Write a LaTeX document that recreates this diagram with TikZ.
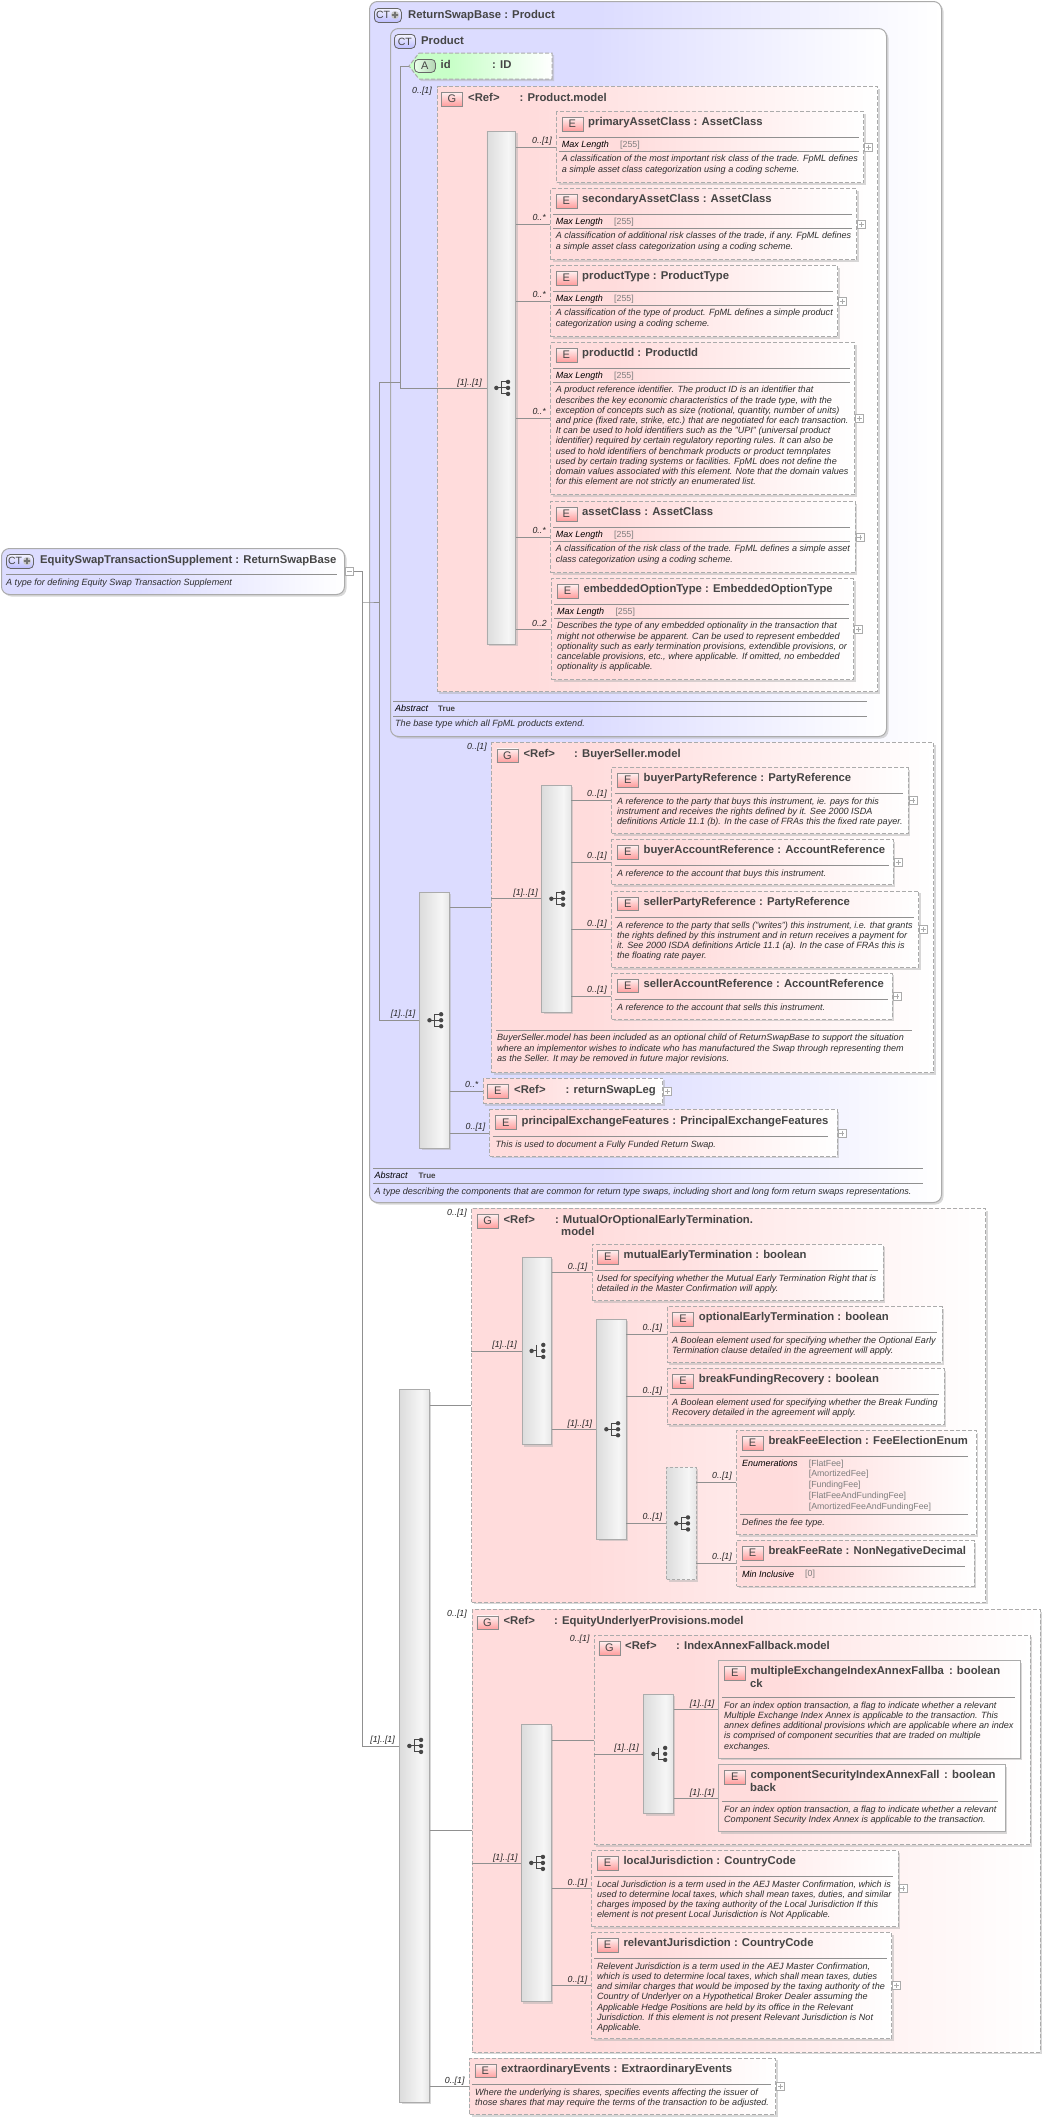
\documentclass[tikz,border=0pt]{standalone}
\usepackage{fontspec}
\setmainfont{Liberation Sans}
\usetikzlibrary{shadows,calc}
\definecolor{pinkc}{HTML}{FFDCDC}
\definecolor{bluec}{HTML}{DCDCFF}
\definecolor{greenc}{HTML}{C8FFC8}
\definecolor{bordc}{HTML}{ABABAB}
\definecolor{linec}{HTML}{909090}
\definecolor{ink}{HTML}{454545}
\definecolor{dimt}{HTML}{7E7E7E}
\definecolor{sqa}{HTML}{DCDCDC}
\definecolor{sqb}{HTML}{F6F6F6}
\definecolor{sqc}{HTML}{E6E6E6}
\pgfdeclarehorizontalshading{pinkg}{100bp}{color(0bp)=(pinkc); color(36bp)=(pinkc); color(75bp)=(white); color(100bp)=(white)}
\pgfdeclarehorizontalshading{blueg}{100bp}{color(0bp)=(bluec); color(45bp)=(bluec); color(75bp)=(white); color(100bp)=(white)}
\pgfdeclarehorizontalshading{greeng}{100bp}{color(0bp)=(greenc); color(40bp)=(greenc); color(75bp)=(white); color(100bp)=(white)}
\pgfdeclarehorizontalshading{seqg}{100bp}{color(0bp)=(sqa); color(25bp)=(sqa); color(62bp)=(sqb); color(75bp)=(sqc); color(100bp)=(sqc)}
\tikzset{
  shdw/.style={drop shadow={shadow xshift=2pt,shadow yshift=-2pt,fill=black!30,opacity=.5}},
  ctbox/.style={shape=rectangle,draw=bordc,line width=1pt,rounded corners=8pt,shade,shading=blueg,shdw},
  grpbox/.style={shape=rectangle,draw=bordc,line width=1pt,dash pattern=on 4pt off 2pt,shade,shading=pinkg,shdw},
  elembox/.style={grpbox},
  elemsolid/.style={shape=rectangle,draw=bordc,line width=1pt,shade,shading=pinkg,shdw},
  seqbox/.style={shape=rectangle,draw=bordc,line width=.8pt,shade,shading=seqg,shdw},
  seqdash/.style={seqbox,dash pattern=on 3pt off 2pt},
  conn/.style={draw=linec,line width=.8pt},
  rulel/.style={draw=linec,line width=.8pt},
  ttext/.style={font=\fontsize{11.3}{13}\selectfont\bfseries,text=ink,inner sep=0pt,anchor=base west},
  dtext/.style={font=\fontsize{9.05}{10.2}\selectfont\itshape,text=black!82,inner sep=0pt,align=left,anchor=north west},
  ftext/.style={font=\fontsize{9}{10.2}\selectfont\itshape,text=black,inner sep=0pt,anchor=base west},
  vtext/.style={font=\fontsize{8.8}{10}\selectfont,text=dimt,inner sep=0pt,anchor=base west},
  ltext/.style={font=\fontsize{8.8}{10}\selectfont\itshape,text=black!85,inner sep=0pt,anchor=base east},
  ptext/.style={font=\fontsize{8}{10}\selectfont\bfseries,text=ink,inner sep=0pt,anchor=base west},
  badge/.style={shape=rectangle,draw=black!45,line width=.7pt,top color=red!6,bottom color=red!38,
     minimum width=21pt,minimum height=13.5pt,inner sep=0pt,anchor=north west,
     font=\fontsize{11}{11}\selectfont,text=ink},
  ctbadge/.style={shape=rectangle,rounded corners=4pt,draw=black!60,line width=.8pt,top color=blue!4,bottom color=blue!26,
     minimum height=14pt,inner sep=0pt,anchor=north west,font=\fontsize{10.5}{10.5}\selectfont,text=ink},
  cttext/.style={font=\fontsize{10.5}{10.5}\selectfont,text=ink,inner sep=0pt},
  abadge/.style={shape=rectangle,rounded corners=4pt,draw=black!60,line width=.8pt,left color=green!8,right color=green!45!black!30,
     minimum width=21pt,minimum height=13pt,inner sep=0pt,anchor=north west,font=\fontsize{11}{11}\selectfont,text=ink},
  plusbx/.style={shape=rectangle,draw=bordc,line width=.7pt,fill=white,minimum width=8pt,minimum height=8pt,inner sep=0pt,anchor=west},
  mdot/.style={fill=black!72,draw=none},
  mline/.style={draw=black!72,line width=1pt}
}
\newcount\nn
\newcommand{\nxt}{\global\advance\nn by 1 }
\newcommand{\mkbox}[6]{\pgfmathsetmacro\bxw{#5-#3}\pgfmathsetmacro\bxh{#6-#4}%
  \node[#1,anchor=north west,minimum width=\bxw pt,minimum height=\bxh pt,inner sep=0pt] (#2) at (#3,#4) {};}
\newcommand{\ttl}[3]{\nxt\node[ttext] (t\the\nn) at (#1,#2) {#3};}
\newcommand{\ptl}[3]{\nxt\node[ptext] (t\the\nn) at (#1,#2) {#3};}
\newcommand{\dsc}[3]{\nxt\node[dtext] (t\the\nn) at (#1,#2-7.14) {\strut #3};}
\newcommand{\lab}[3]{\nxt\node[ltext] (t\the\nn) at (#1,#2) {#3};}
\newcommand{\fct}[3]{\nxt\node[ftext] (t\the\nn) at (#1,#2) {#3};}
\newcommand{\vlu}[3]{\nxt\node[vtext] (t\the\nn) at (#1,#2) {#3};}
\newcommand{\hr}[3]{\draw[rulel] (#1,#3) -- (#2,#3);}
\newcommand{\bdg}[3]{\nxt\node[badge] (b\the\nn) at (#1,#2) {#3};}
% complex-type badge with plus: name, x, y
\newcommand{\ctplus}[3]{\node[ctbadge,minimum width=27pt] (#1) at (#2,#3) {};
  \nxt\node[cttext] (t\the\nn) at (#2+9,#3+7) {CT};
  \fill[black!22] (#2+21,#3+7) circle (4);
  \draw[black!55,line width=2pt] (#2+17.6,#3+7) -- (#2+24.4,#3+7) (#2+21,#3+3.6) -- (#2+21,#3+10.4);}
% element box: style,name,x1,y1,x2,y2,title
\newcommand{\elemb}[7][elembox]{\mkbox{#1}{#2}{#3}{#4}{#5}{#6}\bdg{#3+5.5}{#4+6}{E}\ttl{#3+32}{#4+14.8}{#7}}
% facet rules and text of the Max Length kind: x1,y1,x2
\newcommand{\mxl}[3]{\hr{#1+3}{#3-4.5}{#2+26}\hr{#1+3}{#3-4.5}{#2+40}\fct{#1+5.6}{#2+36.7}{Max Length}\vlu{#1+64}{#2+36.2}{[255]}}
\newcommand{\plusb}[1]{\node[plusbx] (#1p) at (#1.east) {};
  \draw[draw=bordc,line width=.6pt] ($(#1p.center)+(-2.5,0)$) -- ($(#1p.center)+(2.5,0)$) ($(#1p.center)+(0,-2.5)$) -- ($(#1p.center)+(0,2.5)$);}
% sequence compositor marker
\newcommand{\mseq}[1]{\begin{scope}[shift={(#1.center)}]
  \draw[mline] (-5,0) -- (6.7,0) (0,-6) -- (0,6) (0,-6) -- (6.7,-6) (0,6) -- (6.7,6);
  \foreach \mp in {(-5,0),(6.7,-6),(6.7,0),(6.7,6)} \fill[mdot] \mp circle (2.2);
\end{scope}}
\newcommand{\mcho}[1]{\begin{scope}[shift={(#1.center)}]
  \draw[mline] (-5,0) -- (0,0) (0,-6) -- (0,6) -- (6.7,6);
  \foreach \mp in {(-5,0),(6.7,-6),(6.7,0),(6.7,6)} \fill[mdot] \mp circle (2.2);
\end{scope}}
\newcommand{\conel}[2]{\draw[conn] (#1.east |- #2.west) -- (#2.west);}
\begin{document}
\begin{tikzpicture}[x=1pt,y=-1pt]
\useasboundingbox (0,0) rectangle (1044,2120);
\fill[white] (0,0) rectangle (1044,2120);

% ---------- root
\mkbox{ctbox}{root}{1}{548}{344}{594}
\ctplus{rootbadge}{6}{554}
\ttl{40}{563}{EquitySwapTransactionSupplement : ReturnSwapBase}
\hr{6}{337}{574}
\dsc{6}{585}{A type for defining Equity Swap Transaction Supplement}
\node[plusbx] (rootm) at (root.east |- 0,571.5) {};
\draw[draw=bordc,line width=.6pt] ($(rootm.center)+(-2.5,0)$) -- ($(rootm.center)+(2.5,0)$);

% ---------- ReturnSwapBase
\mkbox{ctbox}{rsb}{369}{1}{941}{1202}
\ctplus{rsbbadge}{374}{8}
\ttl{408}{18}{ReturnSwapBase : Product}
\hr{373.4}{922.6}{1168.3}
\hr{373.4}{922.6}{1183.3}
\fct{374.5}{1178.8}{Abstract}
\ptl{418.5}{1178.3}{True}
\dsc{374.5}{1194}{A type describing the components that are common for return type swaps, including short and long form return swaps representations.}

% ---------- Product
\mkbox{ctbox}{prod}{390}{28}{886}{736}
\node[ctbadge,minimum width=21pt] (prodbadge) at (394,34) {CT};
\ttl{421}{44}{Product}
\hr{393}{867}{701}
\hr{393}{867}{716}
\fct{395}{711.7}{Abstract}
\ptl{438}{711.2}{True}
\dsc{395}{726}{The base type which all FpML products extend.}

% id attribute
\path[shade,shading=greeng,draw=bordc,line width=1pt,dash pattern=on 4pt off 2pt,shdw]
  (419,53) -- (552,53) -- (552,79) -- (419,79) -- (409,66) -- cycle;
\coordinate (idtip) at (409,66);
\node[abadge] (idbadge) at (414,59) {A};
\ttl{440.5}{68.5}{id}
\ttl{492}{68.5}{: ID}

% Product.model
\mkbox{grpbox}{pmod}{436.6}{86}{877}{691}
\bdg{441}{92}{G}
\ttl{468}{101}{<Ref>}
\ttl{519.5}{101}{: Product.model}
\mkbox{seqbox}{pseq}{486.5}{131}{515.4}{644}
\mseq{pseq}

\elemb{eprim}{556}{111}{863}{182}{primaryAssetClass : AssetClass}
\mxl{556}{111}{863}
\dsc{561.6}{161.7}{A classification of the most important risk class of the trade. FpML defines\\a simple asset class categorization using a coding scheme.}
\plusb{eprim}
\elemb{esec}{550}{188}{856}{259}{secondaryAssetClass : AssetClass}
\mxl{550}{188}{856}
\dsc{555.6}{238.7}{A classification of additional risk classes of the trade, if any. FpML defines\\a simple asset class categorization using a coding scheme.}
\plusb{esec}
\elemb{eptype}{550}{265}{837}{336}{productType : ProductType}
\mxl{550}{265}{837}
\dsc{555.6}{315.7}{A classification of the type of product. FpML defines a simple product\\categorization using a coding scheme.}
\plusb{eptype}
\elemb{epid}{550}{342}{854}{494}{productId : ProductId}
\mxl{550}{342}{854}
\dsc{555.6}{392.7}{A product reference identifier. The product ID is an identifier that\\describes the key economic characteristics of the trade type, with the\\exception of concepts such as size (notional, quantity, number of units)\\and price (fixed rate, strike, etc.) that are negotiated for each transaction.\\It can be used to hold identifiers such as the "UPI" (universal product\\identifier) required by certain regulatory reporting rules. It can also be\\used to hold identifiers of benchmark products or product temnplates\\used by certain trading systems or facilities. FpML does not define the\\domain values associated with this element. Note that the domain values\\for this element are not strictly an enumerated list.}
\plusb{epid}
\elemb{easset}{550}{501}{854.6}{572}{assetClass : AssetClass}
\mxl{550}{501}{854.6}
\dsc{555.6}{551.7}{A classification of the risk class of the trade. FpML defines a simple asset\\class categorization using a coding scheme.}
\plusb{easset}
\elemb{eembed}{551.3}{578}{853}{679}{embeddedOptionType : EmbeddedOptionType}
\mxl{551.3}{578}{853}
\dsc{556.9}{628.7}{Describes the type of any embedded optionality in the transaction that\\might not otherwise be apparent. Can be used to represent embedded\\optionality such as early termination provisions, extendible provisions, or\\cancelable provisions, etc., where applicable. If omitted, no embedded\\optionality is applicable.}
\plusb{eembed}

% ---------- outer sequence of ReturnSwapBase
\mkbox{seqbox}{oseq}{419.3}{891.7}{448.8}{1148}
\mseq{oseq}

% BuyerSeller.model
\mkbox{grpbox}{bs}{491}{742}{933}{1072}
\bdg{496.6}{748.5}{G}
\ttl{523.4}{757}{<Ref>}
\ttl{574}{757}{: BuyerSeller.model}
\mkbox{seqbox}{bsseq}{541.4}{784.7}{570.5}{1012}
\mseq{bsseq}
\elemb{ebp}{611.4}{767}{907.6}{833}{buyerPartyReference : PartyReference}
\hr{614.5}{903.4}{793}
\dsc{616.8}{804}{A reference to the party that buys this instrument, ie. pays for this\\instrument and receives the rights defined by it. See 2000 ISDA\\definitions Article 11.1 (b). In the case of FRAs this the fixed rate payer.}
\plusb{ebp}
\elemb{eba}{611.4}{839}{892.7}{884.3}{buyerAccountReference : AccountReference}
\hr{614.5}{888.5}{865.3}
\dsc{616.8}{876}{A reference to the account that buys this instrument.}
\plusb{eba}
\elemb{esp}{611.4}{890.7}{918}{967.3}{sellerPartyReference : PartyReference}
\hr{614.5}{913.5}{917.3}
\dsc{616.8}{928}{A reference to the party that sells ("writes") this instrument, i.e. that grants\\the rights defined by this instrument and in return receives a payment for\\it. See 2000 ISDA definitions Article 11.1 (a). In the case of FRAs this is\\the floating rate payer.}
\plusb{esp}
\elemb{esa}{611.4}{972.7}{891.6}{1018.7}{sellerAccountReference : AccountReference}
\hr{614.5}{887.5}{999}
\dsc{616.8}{1010}{A reference to the account that sells this instrument.}
\plusb{esa}
\hr{496}{912}{1030}
\dsc{497}{1040.7}{BuyerSeller.model has been included as an optional child of ReturnSwapBase to support the situation\\where an implementor wishes to indicate who has manufactured the Swap through representing them\\as the Seller. It may be removed in future major revisions.}

% returnSwapLeg
\mkbox{elembox}{erl}{482.5}{1077.7}{662}{1103.3}
\bdg{487}{1084}{E}
\ttl{514}{1093}{<Ref>}
\ttl{565.5}{1093}{: returnSwapLeg}
\plusb{erl}
% principalExchangeFeatures
\elemb{epe}{489.4}{1109.3}{836.5}{1155.7}{principalExchangeFeatures : PrincipalExchangeFeatures}
\hr{492.5}{828}{1136.3}
\dsc{495.5}{1147}{This is used to document a Fully Funded Return Swap.}
\plusb{epe}

% ---------- big sequence
\mkbox{seqbox}{bseq}{399.2}{1389.3}{428.7}{2101.7}
\mseq{bseq}

% MutualOrOptionalEarlyTermination.model
\mkbox{grpbox}{mg}{471.3}{1208.3}{985.4}{1601.7}
\bdg{476.9}{1214}{G}
\ttl{503.4}{1223}{<Ref>}
\ttl{554.8}{1223}{: MutualOrOptionalEarlyTermination.}
\ttl{561}{1235.5}{model}
\mkbox{seqbox}{mseq}{521.6}{1256.7}{550.8}{1444.3}
\mcho{mseq}
\elemb{emu}{591.5}{1244}{882.6}{1300}{mutualEarlyTermination : boolean}
\hr{594.5}{878}{1270.3}
\dsc{596.7}{1281}{Used for specifying whether the Mutual Early Termination Right that is\\detailed in the Master Confirmation will apply.}
\mkbox{seqbox}{iseq}{596.3}{1318.7}{625.6}{1539}
\mseq{iseq}
\elemb{eop}{666.7}{1306}{941.5}{1362}{optionalEarlyTermination : boolean}
\hr{669.7}{937}{1332.3}
\dsc{671.8}{1343}{A Boolean element used for specifying whether the Optional Early\\Termination clause detailed in the agreement will apply.}
\elemb{ebf}{666.7}{1368}{943.5}{1424}{breakFundingRecovery : boolean}
\hr{669.7}{939}{1394.3}
\dsc{671.8}{1405}{A Boolean element used for specifying whether the Break Funding\\Recovery detailed in the agreement will apply.}
\mkbox{seqdash}{cseq}{666.3}{1466.7}{695.5}{1579.3}
\mseq{cseq}
\elemb{ebe}{736.3}{1430}{975.9}{1534.3}{breakFeeElection : FeeElectionEnum}
\hr{739.8}{967.6}{1456.3}
\fct{741.8}{1466.7}{Enumerations}
\vlu{808.6}{1466.2}{[FlatFee]}
\vlu{808.6}{1476.7}{[AmortizedFee]}
\vlu{808.6}{1487.7}{[FundingFee]}
\vlu{808.6}{1498.7}{[FlatFeeAndFundingFee]}
\vlu{808.6}{1509.7}{[AmortizedFeeAndFundingFee]}
\hr{739.8}{967.6}{1514.3}
\dsc{741.8}{1525}{Defines the fee type.}
\elemb{ebr}{736.3}{1540}{973.5}{1585.7}{breakFeeRate : NonNegativeDecimal}
\hr{739.8}{965}{1566.7}
\fct{741.8}{1577}{Min Inclusive}
\vlu{805}{1576.5}{[0]}

% EquityUnderlyerProvisions.model
\mkbox{grpbox}{eg}{471.5}{1609}{1039.5}{2051.7}
\bdg{476.6}{1615.5}{G}
\ttl{503.3}{1624}{<Ref>}
\ttl{554}{1624}{: EquityUnderlyerProvisions.model}
\mkbox{seqbox}{eseq}{521}{1723.7}{550.7}{2001.3}
\mseq{eseq}
% IndexAnnexFallback.model
\mkbox{grpbox}{ig}{593.5}{1634.7}{1029.7}{1844.3}
\bdg{598.5}{1641}{G}
\ttl{625}{1649.5}{<Ref>}
\ttl{676}{1649.5}{: IndexAnnexFallback.model}
\mkbox{seqbox}{igseq}{643.4}{1693.7}{672.7}{1813.3}
\mcho{igseq}
\elemb[elemsolid]{emx}{718.4}{1660}{1019.6}{1757.7}{multipleExchangeIndexAnnexFallba}
\ttl{750}{1687.3}{ck}
\ttl{948.8}{1674.8}{: boolean}
\hr{722}{1015.3}{1697.3}
\dsc{724}{1708}{For an index option transaction, a flag to indicate whether a relevant\\Multiple Exchange Index Annex is applicable to the transaction. This\\annex defines additional provisions which are applicable where an index\\is comprised of component securities that are traded on multiple\\exchanges.}
\elemb[elemsolid]{ecs}{718.4}{1764}{1004.7}{1831.3}{componentSecurityIndexAnnexFall}
\ttl{750}{1791.3}{back}
\ttl{944}{1778.8}{: boolean}
\hr{722}{998.4}{1801.3}
\dsc{724}{1812}{For an index option transaction, a flag to indicate whether a relevant\\Component Security Index Annex is applicable to the transaction.}
% jurisdictions
\elemb{elj}{591.3}{1850}{897.6}{1926}{localJurisdiction : CountryCode}
\hr{594.3}{893.3}{1876.7}
\dsc{596.9}{1887}{Local Jurisdiction is a term used in the AEJ Master Confirmation, which is\\used to determine local taxes, which shall mean taxes, duties, and similar\\charges imposed by the taxing authority of the Local Jurisdiction If this\\element is not present Local Jurisdiction is Not Applicable.}
\plusb{elj}
\elemb{erj}{591.3}{1932}{891}{2038.3}{relevantJurisdiction : CountryCode}
\hr{594.3}{887}{1958.7}
\dsc{596.9}{1969}{Relevent Jurisdiction is a term used in the AEJ Master Confirmation,\\which is used to determine local taxes, which shall mean taxes, duties\\and similar charges that would be imposed by the taxing authority of the\\Country of Underlyer on a Hypothetical Broker Dealer assuming the\\Applicable Hedge Positions are held by its office in the Relevant\\Jurisdiction. If this element is not present Relevant Jurisdiction is Not\\Applicable.}
\plusb{erj}
% extraordinaryEvents
\elemb{eev}{469}{2057.7}{775}{2114}{extraordinaryEvents : ExtraordinaryEvents}
\hr{472}{771}{2084.3}
\dsc{475}{2095}{Where the underlying is shares, specifies events affecting the issuer of\\those shares that may require the terms of the transaction to be adjusted.}
\plusb{eev}

% ---------- connectors
\draw[conn] (rootm.east) -- ++(9,0) coordinate (rfork) -- (rfork |- bseq.west) -- (bseq.west);
\draw[conn] (rfork |- rsb.west) -- (rsb.west) -- ++(10,0) coordinate (sfork);
\draw[conn] (sfork |- prod.west) -- (sfork |- oseq.west) -- (oseq.west);
\draw[conn] (sfork |- prod.west) -- (prod.west) -- ++(10,0) coordinate (pfork);
\draw[conn] (pfork |- idtip) -- (idtip);
\draw[conn] (pfork |- idtip) -- (pfork |- pseq.west) -- (pseq.west);
\conel{pseq}{eprim}\conel{pseq}{esec}\conel{pseq}{eptype}\conel{pseq}{epid}\conel{pseq}{easset}\conel{pseq}{eembed}
\conel{oseq}{bs}\conel{oseq}{erl}\conel{oseq}{epe}
\draw[conn] (bs.west |- bsseq.west) -- (bsseq.west);
\conel{bsseq}{ebp}\conel{bsseq}{eba}\conel{bsseq}{esp}\conel{bsseq}{esa}
\conel{bseq}{mg}\conel{bseq}{eg}\conel{bseq}{eev}
\draw[conn] (mg.west |- mseq.west) -- (mseq.west);
\conel{mseq}{emu}\conel{mseq}{iseq}
\conel{iseq}{eop}\conel{iseq}{ebf}\conel{iseq}{cseq}
\conel{cseq}{ebe}\conel{cseq}{ebr}
\draw[conn] (eg.west |- eseq.west) -- (eseq.west);
\conel{eseq}{ig}\conel{eseq}{elj}\conel{eseq}{erj}
\draw[conn] (ig.west |- igseq.west) -- (igseq.west);
\conel{igseq}{emx}\conel{igseq}{ecs}

% ---------- multiplicity labels
\lab{432}{93}{0..[1]}
\lab{482}{385}{[1]..[1]}
\lab{552}{143}{0..[1]}
\lab{546}{220}{0..*}
\lab{546}{297}{0..*}
\lab{546}{414}{0..*}
\lab{546}{533}{0..*}
\lab{547}{626}{0..2}
\lab{487}{749}{0..[1]}
\lab{538}{895.7}{[1]..[1]}
\lab{415.5}{1016.7}{[1]..[1]}
\lab{607}{796.7}{0..[1]}
\lab{607}{858}{0..[1]}
\lab{607}{926}{0..[1]}
\lab{607}{992.5}{0..[1]}
\lab{478.6}{1087}{0..*}
\lab{485.5}{1129}{0..[1]}
\lab{467}{1215}{0..[1]}
\lab{395}{1742.7}{[1]..[1]}
\lab{517}{1347.7}{[1]..[1]}
\lab{587.6}{1269.3}{0..[1]}
\lab{592.3}{1426}{[1]..[1]}
\lab{662.3}{1330.7}{0..[1]}
\lab{662.3}{1393}{0..[1]}
\lab{662.3}{1519.3}{0..[1]}
\lab{732}{1478.7}{0..[1]}
\lab{732}{1559}{0..[1]}
\lab{467}{1616}{0..[1]}
\lab{517.7}{1860}{[1]..[1]}
\lab{589.7}{1641.7}{0..[1]}
\lab{639}{1750.7}{[1]..[1]}
\lab{714.6}{1706.7}{[1]..[1]}
\lab{714.6}{1795.7}{[1]..[1]}
\lab{587.5}{1885}{0..[1]}
\lab{587.5}{1982.7}{0..[1]}
\lab{464.7}{2083}{0..[1]}
\end{tikzpicture}
\end{document}
